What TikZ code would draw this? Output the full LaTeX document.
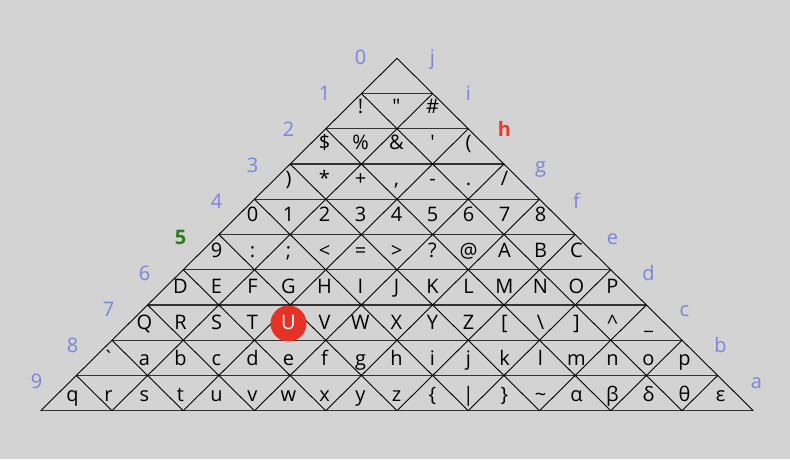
\documentclass[tikz,border=0pt]{standalone}
\usepackage{fontspec}
\setmainfont{Open Sans}
\newfontfamily\glyphfont{Open Sans}
\definecolor{bggray}{RGB}{211,211,211}
\definecolor{labblue}{RGB}{122,134,216}
\definecolor{labred}{RGB}{232,57,42}
\definecolor{labgreen}{RGB}{46,125,31}
\definecolor{hlred}{RGB}{229,50,40}
\newcommand\glyphchar[1]{\ifnum#1<95 \char\numexpr32+#1\relax\else\ifcase\numexpr#1-95\relax α\or β\or δ\or θ\or ε\fi\fi}
\tikzset{
  hline/.style={draw=black!80, line width=1.1pt},
  dline/.style={draw=black, line width=0.9pt},
  chr/.style={anchor=base, inner sep=0pt, font=\glyphfont\fontsize{20}{24}\selectfont},
  lab/.style={anchor=base, inner sep=0pt, text=labblue, font=\fontsize{20}{24}\selectfont},
  labg/.style={lab, text=labgreen, font=\fontsize{20}{24}\selectfont\bfseries},
  labr/.style={lab, text=labred, font=\fontsize{20}{24}\selectfont\bfseries},
  hlcircle/.style={fill=hlred, draw=none}
}
\begin{document}
\begin{tikzpicture}[x=1pt,y=-1pt]
\fill[bggray] (0,0) rectangle (790,459);
\useasboundingbox (0,0) rectangle (790,459);
% grid
\foreach \r in {1,...,10}
  \draw[hline] ({397-\r*35.63},{58.3+\r*35.24}) -- ({397+\r*35.63},{58.3+\r*35.24});
\foreach \i in {0,...,9} {
  \draw[dline] ({397+\i*35.63},{58.3+\i*35.24}) -- ({397+(2*\i-10)*35.63},410.7);
  \draw[dline] ({397-\i*35.63},{58.3+\i*35.24}) -- ({397+(10-2*\i)*35.63},410.7);
}
% highlight
\fill[hlcircle] (288.5,323.5) circle[radius=18pt];
% characters
\foreach \r in {0,...,9} {
  \pgfmathtruncatemacro\kmax{2*\r}
  \foreach \k in {0,...,\kmax} {
    \pgfmathtruncatemacro\n{\r*\r+\k}
    \def\col{black}\ifnum\n=53 \def\col{white}\fi
    \node[chr, text=\col] (c\n) at ({396.5+(\k-\r)*36},{77+36*\r}) {\glyphchar{\n}};
  }
}
% labels
\foreach \t/\s [count=\i from 0] in {0/lab,1/lab,2/lab,3/lab,4/lab,5/labg,6/lab,7/lab,8/lab,9/lab}
  \node[\s] (L\i) at ({360.5-36*\i},{64+36*\i}) {\t};
\foreach \t/\s [count=\i from 0] in {j/lab,i/lab,h/labr,g/lab,f/lab,e/lab,d/lab,c/lab,b/lab,a/lab}
  \node[\s] (R\i) at ({432.5+36*\i},{64+36*\i}) {\t};
\end{tikzpicture}
\end{document}
